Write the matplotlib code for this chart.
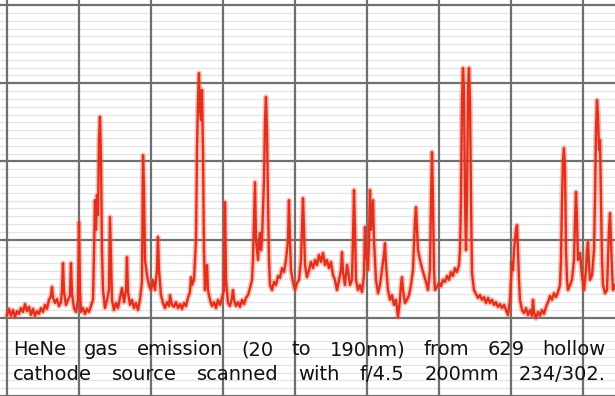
import matplotlib
matplotlib.use("Agg")
import matplotlib.pyplot as plt
from matplotlib.transforms import IdentityTransform

# HeNe emission scan (wavelength in nm, intensity in % of full scale)
wavelength_nm = [
    20.00, 20.56, 21.11, 21.67, 22.22, 22.78, 23.33, 23.89, 24.44, 25.00,
    25.56, 26.11, 26.67, 27.22, 27.78, 28.33, 28.89, 29.44, 30.00, 30.56,
    31.11, 31.67, 32.22, 32.50, 32.78, 33.33, 33.89, 34.44, 35.00, 35.28,
    35.56, 35.83, 36.39, 36.94, 37.50, 37.78, 38.06, 38.61, 39.17, 39.72,
    40.00, 40.28, 40.56, 41.11, 41.67, 42.22, 42.78, 43.33, 43.89, 44.17,
    44.44, 44.72, 45.00, 45.28, 45.56, 45.83, 46.11, 46.39, 46.67, 47.22,
    47.78, 48.33, 48.61, 48.89, 49.17, 49.72, 50.28, 50.83, 51.39, 51.94,
    52.50, 53.06, 53.33, 53.61, 54.17, 54.72, 55.28, 55.83, 56.39, 56.94,
    57.50, 57.78, 58.06, 58.33, 58.89, 59.44, 60.00, 60.56, 61.11, 61.67,
    61.94, 62.22, 62.78, 63.33, 63.89, 64.44, 65.00, 65.28, 65.83, 66.39,
    66.94, 67.50, 68.06, 68.61, 69.17, 69.72, 70.28, 70.83, 71.11, 71.39,
    71.94, 72.50, 72.78, 73.06, 73.33, 73.61, 73.89, 74.17, 74.44, 74.72,
    75.00, 75.28, 75.56, 75.83, 76.39, 76.94, 77.50, 78.06, 78.61, 79.17,
    79.72, 80.28, 80.56, 80.83, 81.39, 81.94, 82.50, 82.78, 83.06, 83.61,
    84.17, 84.72, 85.28, 85.83, 86.39, 86.94, 87.50, 88.06, 88.33, 88.61,
    88.89, 89.17, 89.72, 90.00, 90.28, 90.56, 90.83, 91.39, 91.67, 91.94,
    92.22, 92.50, 92.78, 93.06, 93.61, 94.17, 94.72, 95.28, 95.83, 96.39,
    96.94, 97.50, 98.06, 98.33, 98.61, 98.89, 99.44, 100.00, 100.56, 101.11,
    101.67, 101.94, 102.22, 102.50, 102.78, 103.33, 103.89, 104.44, 105.00, 105.56,
    106.11, 106.67, 107.22, 107.78, 108.33, 108.89, 109.44, 110.00, 110.56, 111.11,
    111.67, 112.22, 112.78, 113.06, 113.33, 113.89, 114.44, 114.72, 115.28, 115.83,
    116.11, 116.39, 116.67, 116.94, 117.50, 118.06, 118.61, 119.17, 119.44, 119.72,
    120.28, 120.56, 120.83, 121.11, 121.39, 121.67, 121.94, 122.50, 123.06, 123.61,
    124.17, 124.72, 125.00, 125.28, 125.83, 126.39, 126.94, 127.50, 128.06, 128.61,
    129.17, 129.44, 129.72, 130.00, 130.56, 131.11, 131.67, 132.22, 132.78, 133.06,
    133.33, 133.61, 133.89, 134.17, 134.72, 135.28, 135.83, 136.39, 136.94, 137.50,
    137.78, 138.06, 138.33, 138.61, 138.89, 139.44, 140.00, 140.56, 141.11, 141.67,
    142.22, 142.78, 143.33, 143.89, 144.44, 145.00, 145.56, 145.83, 146.11, 146.39,
    146.67, 146.94, 147.22, 147.50, 147.78, 148.06, 148.33, 148.61, 148.89, 149.17,
    149.72, 150.28, 150.83, 151.39, 151.94, 152.50, 153.06, 153.61, 154.17, 154.72,
    155.28, 155.83, 156.39, 156.94, 157.50, 158.06, 158.61, 159.17, 159.72, 160.00,
    160.28, 160.56, 160.83, 161.11, 161.39, 161.67, 161.94, 162.22, 162.50, 163.06,
    163.61, 164.17, 164.72, 165.28, 165.83, 166.11, 166.39, 166.94, 167.50, 168.06,
    168.61, 169.17, 169.72, 170.28, 170.83, 171.39, 171.94, 172.50, 173.06, 173.61,
    173.89, 174.17, 174.44, 174.72, 175.00, 175.28, 175.56, 175.83, 176.39, 176.94,
    177.50, 177.78, 178.06, 178.33, 178.61, 179.17, 179.72, 180.28, 180.83, 181.11,
    181.39, 181.67, 181.94, 182.50, 183.06, 183.33, 183.61, 183.89, 184.17, 184.44,
    184.72, 185.00, 185.28, 185.56, 186.11, 186.67, 186.94, 187.22, 187.50, 187.78,
    188.06, 188.33, 188.89,
]
intensity_pct = [
    20.7, 22.3, 20.5, 22.0, 20.2, 21.7, 21.0, 22.5, 21.5, 23.5,
    21.7, 22.8, 20.7, 22.3, 20.5, 21.7, 21.0, 22.5, 21.5, 23.3,
    22.3, 24.6, 25.6, 27.9, 25.1, 23.8, 24.8, 23.0, 24.0, 27.1,
    34.0, 26.6, 23.3, 24.6, 25.6, 34.0, 26.1, 22.5, 21.5, 24.6,
    44.5, 27.1, 21.5, 22.5, 21.0, 22.3, 21.5, 23.0, 24.6, 36.1,
    50.1, 42.5, 51.4, 46.3, 65.5, 71.4, 60.4, 37.3, 27.1, 22.5,
    24.6, 27.1, 45.8, 34.8, 24.6, 22.0, 23.8, 22.5, 25.1, 27.6,
    24.0, 27.1, 35.5, 26.6, 23.3, 24.6, 22.5, 23.8, 22.0, 24.6,
    29.2, 61.6, 52.7, 34.8, 30.9, 28.4, 27.1, 29.7, 27.1, 32.2,
    40.7, 32.2, 25.8, 23.8, 22.5, 24.0, 23.0, 25.8, 23.3, 22.8,
    24.0, 22.5, 23.5, 22.3, 23.8, 23.0, 25.1, 26.6, 30.4, 28.4,
    29.7, 39.9, 62.9, 75.7, 82.6, 73.1, 70.6, 78.3, 62.9, 37.3,
    27.1, 32.2, 33.5, 27.1, 24.6, 23.0, 24.0, 22.5, 24.6, 23.3,
    25.1, 27.1, 49.6, 29.7, 23.8, 23.0, 25.1, 27.1, 24.6, 23.0,
    24.0, 22.8, 24.6, 23.5, 25.1, 25.8, 27.6, 29.7, 34.8, 45.0,
    54.7, 39.9, 34.8, 39.9, 41.7, 37.3, 39.9, 55.2, 70.6, 76.5,
    68.0, 50.1, 34.8, 28.4, 27.1, 29.2, 28.4, 30.7, 30.2, 32.7,
    31.7, 34.8, 39.9, 50.1, 39.9, 32.2, 29.2, 27.1, 28.9, 29.7,
    34.8, 42.5, 50.6, 42.5, 33.5, 30.4, 32.2, 34.3, 32.7, 34.8,
    33.5, 36.1, 34.3, 36.6, 33.5, 34.8, 32.7, 34.3, 30.9, 29.7,
    27.1, 29.7, 32.2, 36.8, 31.7, 28.4, 33.5, 32.2, 28.4, 29.7,
    39.9, 52.7, 42.5, 29.7, 27.1, 28.4, 26.6, 30.9, 43.2, 37.3,
    32.2, 39.9, 52.7, 42.5, 46.3, 50.1, 39.9, 29.7, 26.3, 28.4,
    32.2, 36.1, 39.1, 33.5, 27.1, 24.6, 25.8, 23.3, 24.6, 20.2,
    24.6, 28.4, 30.4, 27.1, 23.8, 24.6, 25.8, 28.4, 32.2, 38.6,
    45.0, 48.3, 42.5, 37.3, 34.8, 32.7, 30.9, 29.2, 27.1, 32.2,
    50.1, 62.4, 50.1, 32.2, 27.1, 27.9, 28.9, 28.1, 29.7, 29.2,
    30.7, 29.7, 31.7, 30.7, 32.7, 31.7, 33.5, 37.3, 50.1, 75.7,
    83.9, 78.3, 50.1, 37.3, 50.1, 78.3, 83.9, 75.7, 50.1, 31.5,
    27.1, 26.1, 25.1, 25.8, 24.6, 25.3, 23.8, 25.1, 23.8, 24.6,
    23.3, 24.0, 22.8, 23.5, 22.5, 23.3, 22.0, 20.7, 24.6, 29.7,
    34.3, 32.2, 37.3, 39.9, 42.5, 43.7, 37.3, 29.7, 24.6, 22.0,
    21.2, 22.5, 20.7, 22.0, 20.5, 24.6, 21.5, 19.9, 21.5, 20.5,
    22.0, 21.0, 22.8, 24.0, 25.6, 24.6, 26.3, 25.3, 26.6, 28.4,
    34.8, 50.1, 60.4, 63.4, 57.8, 37.3, 29.7, 27.1, 28.4, 29.7,
    34.8, 45.0, 52.2, 45.0, 34.8, 36.6, 30.9, 27.1, 32.2, 37.3,
    39.4, 33.5, 29.7, 30.9, 37.3, 50.1, 68.0, 75.7, 71.9, 62.9,
    65.5, 50.1, 34.8, 28.4, 26.3, 27.1, 34.8, 42.5, 46.8, 39.9,
    32.2, 27.1, 28.4,
]

major_x = [20, 40, 60, 80, 100, 120, 140, 160, 180]
major_y = [0, 20, 40, 60, 80, 100]
caption_lines = [
    "HeNe gas emission (20 to 190nm) from 629 hollow",
    "cathode source scanned with f/4.5 200mm 234/302.",
]

W, H = 615, 396
fig = plt.figure(figsize=(W / 100, H / 100), dpi=100)
ax = fig.add_axes([0, 0, 1, 1])
ax.set_xlim(18.06, 188.89)
ax.set_ylim(0, 101.3)

# chart paper: faint minor rules, dark major rules
for v in range(0, 101, 2):
    if v % 20:
        ax.axhline(v, color="#e1e5e8", lw=0.9, zorder=1)
for v in major_y:
    ax.axhline(v, color="#707070", lw=1.6, zorder=2)
for v in major_x:
    ax.axvline(v, color="#707070", lw=1.6, zorder=2)

# trace: soft halo + core (scanned look)
ax.plot(wavelength_nm, intensity_pct, color="#f25a40", lw=4.0, alpha=0.35,
        zorder=3, solid_joinstyle="round")
ax.plot(wavelength_nm, intensity_pct, color="#e2301c", lw=1.7, zorder=4,
        solid_joinstyle="round")

ax.set_axis_off()

# justified caption
renderer = fig.canvas.get_renderer()
x0, x1 = 13, 606
for line, base in zip(caption_lines, [355, 380]):
    words = line.split()
    texts = [fig.text(0, 0, w, fontsize=14, family="DejaVu Sans", color="#111111",
                      va="baseline", ha="left", transform=IdentityTransform())
             for w in words]
    widths = [t.get_window_extent(renderer).width for t in texts]
    gap = (x1 - x0 - sum(widths)) / (len(words) - 1)
    x = x0
    for t, w in zip(texts, widths):
        t.set_position((x, H - base))
        x += w + gap

fig.savefig("out.png", dpi=100)
